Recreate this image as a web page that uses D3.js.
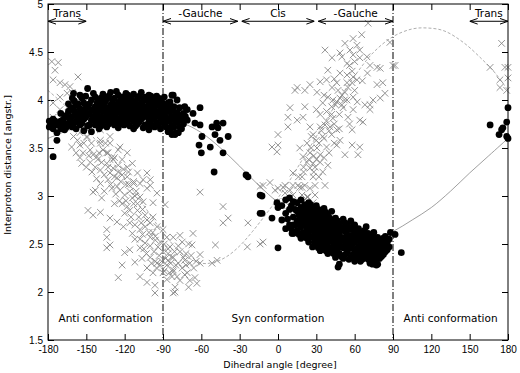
<!DOCTYPE html>
<html>
<head>
<meta charset="utf-8">
<title>Interproton distance vs dihedral angle</title>
<script src="https://d3js.org/d3.v7.min.js"></script>
<style>
  body { margin: 0; background: #fff; }
  svg { display: block; font-family: "DejaVu Sans", sans-serif; }
  .tick line { stroke: #000; }
  .tick text { font-size: 10px; fill: #000; }
</style>
</head>
<body>
<div id="chart"></div>
<script>
// axis ticks
const xTicks = [-180, -150, -120, -90, -60, -30, 0, 30, 60, 90, 120, 150, 180];
const yTicks = [1.5, 2, 2.5, 3, 3.5, 4, 4.5, 5];

// model curves [angle, distance]
const synCurve = [[-180,3.60],[-165,3.68],[-150,3.75],[-135,3.80],[-120,3.82],[-105,3.82],[-90,3.80],[-75,3.76],[-60,3.66],[-45,3.50],[-30,3.31],[-15,3.11],[0,2.93],[15,2.77],[30,2.64],[45,2.56],[60,2.52],[75,2.54],[90,2.63],[105,2.75],[120,2.88],[135,3.05],[150,3.24],[165,3.42],[180,3.60]];
const antiCurve = [[-180,4.10],[-165,3.92],[-150,3.70],[-135,3.45],[-120,3.18],[-105,2.90],[-90,2.62],[-75,2.40],[-60,2.30],[-50,2.31],[-40,2.37],[-30,2.48],[-20,2.63],[-10,2.80],[0,2.98],[10,3.18],[20,3.40],[30,3.62],[45,3.95],[60,4.25],[75,4.50],[90,4.66],[105,4.74],[117,4.75],[130,4.72],[145,4.60],[160,4.42],[170,4.28],[180,4.10]];

// filled circles: anti band (left), scattered transition, syn cluster, right edge
const dotsAnti = [
  [-179,3.78],[-179,3.72],[-176,3.41],[-176,3.70],[-176,3.80],[-173,3.58],[-173,3.74],[-173,3.66],
  [-170,3.70],[-170,3.78],[-170,3.86],[-167,3.69],[-167,3.82],[-167,3.75],[-164,3.76],[-164,3.88],[-164,3.96],
  [-161,3.72],[-161,3.83],[-161,3.92],[-161,4.02],[-160,4.07],[-158,3.70],[-158,3.78],[-158,3.86],[-158,3.95],
  [-155,3.74],[-155,3.84],[-155,3.91],[-155,4.05],[-152,3.68],[-152,3.80],[-152,3.88],[-152,3.97],
  [-149,3.73],[-149,3.86],[-149,3.94],[-149,4.12],[-146,3.67],[-146,3.79],[-146,3.90],[-146,4.00],
  [-143,3.74],[-143,3.84],[-143,3.93],[-143,4.03],[-140,3.70],[-140,3.82],[-140,3.91],[-140,3.99],
  [-137,3.77],[-137,3.88],[-137,3.96],[-137,4.06],[-134,3.72],[-134,3.83],[-134,3.92],[-134,4.01],
  [-131,3.78],[-131,3.87],[-131,3.95],[-131,4.08],[-128,3.74],[-128,3.84],[-128,3.93],[-128,4.02],
  [-125,3.71],[-125,3.80],[-125,3.89],[-125,3.97],[-125,4.05],[-122,3.75],[-122,3.85],[-122,3.94],[-122,4.03],
  [-119,3.79],[-119,3.88],[-119,3.98],[-119,4.07],[-116,3.73],[-116,3.84],[-116,3.92],[-116,4.01],
  [-113,3.70],[-113,3.78],[-113,3.87],[-113,3.96],[-113,4.06],[-110,3.75],[-110,3.84],[-110,3.93],[-110,4.02],
  [-107,3.80],[-107,3.89],[-107,3.97],[-107,4.08],[-104,3.74],[-104,3.85],[-104,3.93],[-104,4.03],
  [-101,3.69],[-101,3.78],[-101,3.88],[-101,3.96],[-101,4.05],[-98,3.73],[-98,3.83],[-98,3.92],[-98,4.00],
  [-95,3.76],[-95,3.86],[-95,3.95],[-95,4.04],[-92,3.70],[-92,3.81],[-92,3.90],[-92,3.99],
  [-89,3.75],[-89,3.84],[-89,3.93],[-89,4.03],[-86,3.67],[-86,3.78],[-86,3.88],[-86,3.97],
  [-83,3.64],[-83,3.73],[-83,3.83],[-83,3.92],[-83,4.05],[-80,3.66],[-80,3.78],[-80,3.87],
  [-77,3.72],[-77,3.82],[-77,3.92],[-74,3.75],[-74,3.86],[-71,3.79],[-71,3.90],
  [-177.5,3.75],[-174.5,3.78],[-171.5,3.74],[-168.5,3.79],[-165.5,3.84],[-165.5,3.72],[-162.5,3.80],[-162.5,3.90],
  [-159.5,3.76],[-159.5,3.89],[-159.5,3.99],[-156.5,3.81],[-156.5,3.96],[-153.5,3.76],[-153.5,3.86],[-153.5,4.02],
  [-150.5,3.82],[-150.5,3.91],[-150.5,4.04],[-147.5,3.74],[-147.5,3.85],[-147.5,3.96],[-144.5,3.81],[-144.5,3.89],
  [-144.5,4.07],[-141.5,3.77],[-141.5,3.87],[-141.5,3.97],[-138.5,3.73],[-138.5,3.83],[-138.5,3.93],[-138.5,4.02],
  [-135.5,3.80],[-135.5,3.89],[-135.5,3.98],[-132.5,3.75],[-132.5,3.85],[-132.5,3.91],[-132.5,4.04],[-129.5,3.81],
  [-129.5,3.90],[-129.5,3.99],[-126.5,3.76],[-126.5,3.86],[-126.5,3.94],[-126.5,4.09],[-123.5,3.79],[-123.5,3.90],
  [-123.5,3.99],[-120.5,3.74],[-120.5,3.83],[-120.5,3.93],[-120.5,4.02],[-117.5,3.78],[-117.5,3.88],[-117.5,3.96],
  [-117.5,4.05],[-114.5,3.82],[-114.5,3.91],[-114.5,4.00],[-111.5,3.73],[-111.5,3.80],[-111.5,3.89],[-111.5,3.98],
  [-108.5,3.77],[-108.5,3.86],[-108.5,3.95],[-108.5,4.04],[-105.5,3.71],[-105.5,3.82],[-105.5,3.90],[-105.5,3.99],
  [-102.5,3.74],[-102.5,3.83],[-102.5,3.92],[-102.5,4.01],[-99.5,3.78],[-99.5,3.87],[-99.5,3.96],[-99.5,4.04],
  [-96.5,3.72],[-96.5,3.81],[-96.5,3.90],[-96.5,3.99],[-93.5,3.74],[-93.5,3.85],[-93.5,3.95],[-93.5,4.02],
  [-90.5,3.78],[-90.5,3.88],[-90.5,3.97],[-87.5,3.72],[-87.5,3.82],[-87.5,3.92],[-84.5,3.69],[-84.5,3.78],
  [-84.5,3.88],[-84.5,3.98],[-81.5,3.72],[-81.5,3.82],[-81.5,3.93],[-78.5,3.77],[-78.5,3.86],[-75.5,3.80],
  [-75.5,3.70],[-72.5,3.83],
  [180,3.92],[166,3.74],[179,3.77],[176,3.71],[175,3.69],[173,3.64],[179,3.62],[180,3.60]
];
const dotsMid = [
  [-82,4.05],[-79,4.00],[-73,3.93],[-61,3.92],[-66.5,3.86],[-65,3.76],[-61,3.74],[-78,3.66],[-80.6,3.64],
  [-51.6,3.72],[-48,3.76],[-43,3.76],[-47,3.71],[-49.3,3.64],[-59.5,3.62],[-45.4,3.58],[-39,3.62],
  [-61.8,3.53],[-53,3.51],[-60,3.45],[-43,3.45],[-50,3.25],[-25,3.22],[-23.5,3.20],[-12.5,3.00],
  [-0.8,2.93],[0,2.88],[-12.5,2.82],[-4.7,2.77],[-14,3.01],[-14,2.82],[0,2.46],[11,2.61]
];
const dotsSyn = [
  [3,2.90],[3,2.75],[6,2.82],[6,2.96],[6,2.66],[9,2.70],[9,2.86],[9,2.98],[12,2.61],[12,2.78],[12,2.94],[12,2.70],
  [15,2.64],[15,2.74],[15,2.84],[15,2.93],[18,2.56],[18,2.68],[18,2.78],[18,2.88],[18,2.96],
  [21,2.60],[21,2.70],[21,2.80],[21,2.91],[24,2.52],[24,2.63],[24,2.73],[24,2.83],[24,2.93],
  [27,2.47],[27,2.57],[27,2.67],[27,2.76],[27,2.86],[30,2.50],[30,2.60],[30,2.70],[30,2.79],[30,2.90],
  [33,2.43],[33,2.54],[33,2.64],[33,2.73],[33,2.83],[36,2.46],[36,2.57],[36,2.67],[36,2.77],[36,2.87],
  [39,2.40],[39,2.51],[39,2.61],[39,2.71],[39,2.80],[42,2.44],[42,2.54],[42,2.64],[42,2.74],[42,2.84],
  [45,2.36],[45,2.48],[45,2.58],[45,2.68],[45,2.77],[48,2.29],[48,2.40],[48,2.51],[48,2.61],[48,2.71],
  [51,2.35],[51,2.46],[51,2.56],[51,2.66],[51,2.76],[54,2.41],[54,2.50],[54,2.60],[54,2.70],
  [57,2.36],[57,2.46],[57,2.55],[57,2.65],[57,2.74],[60,2.32],[60,2.42],[60,2.52],[60,2.61],[60,2.70],
  [63,2.38],[63,2.47],[63,2.56],[63,2.66],[66,2.34],[66,2.44],[66,2.53],[66,2.62],
  [69,2.40],[69,2.49],[69,2.58],[69,2.68],[72,2.30],[72,2.38],[72,2.47],[72,2.56],
  [75,2.35],[75,2.44],[75,2.52],[75,2.62],[78,2.29],[78,2.40],[78,2.48],[78,2.57],
  [81,2.37],[81,2.45],[81,2.54],[84,2.42],[84,2.50],[84,2.58],[87,2.47],[87,2.55],
  [47,2.26],[74,2.29],[77,2.28],[88,2.62],[91.6,2.60],[96.5,2.41],
  [7.5,2.76],[10.5,2.66],[10.5,2.90],[13.5,2.70],[13.5,2.86],[16.5,2.60],[16.5,2.70],[16.5,2.80],
  [19.5,2.62],[19.5,2.74],[19.5,2.84],[22.5,2.56],[22.5,2.67],[22.5,2.77],[22.5,2.87],[25.5,2.58],
  [25.5,2.69],[25.5,2.79],[25.5,2.91],[28.5,2.52],[28.5,2.62],[28.5,2.72],[28.5,2.82],[31.5,2.46],
  [31.5,2.56],[31.5,2.66],[31.5,2.76],[31.5,2.86],[34.5,2.50],[34.5,2.60],[34.5,2.70],[34.5,2.80],
  [37.5,2.43],[37.5,2.53],[37.5,2.63],[37.5,2.73],[37.5,2.83],[40.5,2.46],[40.5,2.57],[40.5,2.67],
  [40.5,2.77],[43.5,2.40],[43.5,2.51],[43.5,2.61],[43.5,2.71],[46.5,2.44],[46.5,2.54],[46.5,2.64],
  [46.5,2.74],[49.5,2.37],[49.5,2.47],[49.5,2.57],[49.5,2.67],[52.5,2.39],[52.5,2.52],[52.5,2.63],
  [52.5,2.72],[55.5,2.34],[55.5,2.45],[55.5,2.56],[55.5,2.66],[58.5,2.39],[58.5,2.50],[58.5,2.59],
  [58.5,2.68],[61.5,2.36],[61.5,2.45],[61.5,2.55],[61.5,2.64],[64.5,2.32],[64.5,2.42],[64.5,2.51],
  [64.5,2.60],[67.5,2.37],[67.5,2.47],[67.5,2.56],[67.5,2.64],[70.5,2.34],[70.5,2.44],[70.5,2.52],
  [70.5,2.61],[73.5,2.42],[73.5,2.50],[73.5,2.59],[76.5,2.32],[76.5,2.40],[76.5,2.48],[76.5,2.56],
  [79.5,2.35],[79.5,2.43],[79.5,2.51],[82.5,2.39],[82.5,2.47],[82.5,2.56],[85.5,2.44],[85.5,2.52]
];

// crosses: left diagonal band, middle, right diagonal band, right edge
const crossesLeft = [
  [-177,4.40],[-172,4.39],[-174.5,4.31],[-176,4.21],[-170.6,4.18],[-166.7,4.16],[-162.8,4.14],[-156.5,4.24],
  [-176,3.97],[-170.6,4.03],[-165,4.07],[-161,4.08],[-157,4.00],[-153.4,3.93],[-164.3,3.93],[-170.6,3.90],
  [-176,3.82],[-149.5,3.76],[-144.7,3.79],[-155,3.66],[-139,3.69],[-131.5,3.62],[-149.5,3.62],[-139,3.55],
  [-134,3.45],[-123.7,3.51],[-129,3.38],[-141.7,3.41],[-125,3.32],[-118,3.30],[-118,3.20],[-113,3.13],
  [-105.6,3.17],[-100,3.11],[-131.5,3.24],[-139,3.13],[-161.5,3.51],[-155,3.53],[-152.6,3.45],[-147,3.48],
  [-153.6,3.34],[-147,3.35],[-144.7,3.43],[-141,3.38],[-137,3.48],[-133,3.45],[-139,3.27],[-145.6,3.25],
  [-143,3.06],[-144.7,3.04],[-138,2.98],[-148.7,2.85],[-144.7,2.80],[-139,2.83],[-129,3.29],[-133,3.17],
  [-126,3.19],[-130,3.08],[-123.7,3.06],[-118,3.45],[-125,3.48],[-131.5,3.55],[-139,3.58],[-122,3.38],
  [-114,3.34],[-117,3.25],[-110,3.24],[-113,3.15],[-108,3.13],[-120,3.01],[-114,2.98],[-118,2.89],
  [-110,2.85],[-108,2.99],[-105.6,2.94],[-102.5,3.08],[-100,3.17],[-102.5,3.24],[-131.5,2.77],[-126,2.73],
  [-121,2.68],[-116,2.72],[-114,2.61],[-108,2.65],[-102.5,2.75],[-97.8,2.78],[-94.7,2.68],[-100,2.57],
  [-104,2.51],[-96,2.54],[-94,2.47],[-108,2.46],[-116,2.44],[-120,2.41],[-122,2.28],[-112,2.31],
  [-106.5,2.35],[-100,2.36],[-94.7,2.30],[-102.5,2.25],[-97.8,2.20],[-108,2.16],[-102.5,2.10],[-96.3,2.07],
  [-125,2.15],[-131.5,2.49],[-134,2.46],[-134,2.57],[-134,2.65],[-96.3,1.99],[-82,1.99],[-90,2.65],
  [-87,2.57],[-84.5,2.47],[-83,2.36],[-82,2.23],[-87,2.13],[-88.4,2.91],[-94.7,3.03],[-97.8,2.93],
  [-134,3.34],[-149.5,3.61],[-157,3.58],[-128,3.40],[-122,3.22],[-119,3.12],[-116,3.05],[-112,3.00],
  [-110,2.92],[-106,2.86],[-104,2.80],[-100,2.72],[-98,2.62],[-96,2.58],[-92,2.52],[-90,2.42],
  [-88,2.35],[-92,2.28],[-89,2.22],[-86,2.45],[-126,3.10],[-124,2.95],[-112,2.55],[-106,2.60],
  [-150,3.70],[-160,3.85],[-165,3.75],[-136,3.05],[-128,2.92],
  [-160,3.62],[-158,3.45],[-155,3.40],[-152,3.55],[-150,3.30],[-148,3.42],[-146,3.55],[-143,3.30],
  [-142,3.18],[-140,3.45],[-138,3.35],[-136,3.22],[-135,3.55],[-133,3.30],[-131,3.12],[-130,3.40],
  [-128,3.20],[-127,3.02],[-125,3.25],[-123,3.15],[-122,2.92],[-121,3.28],[-120,2.82],[-119,2.95],
  [-117,3.12],[-116,2.85],[-115,2.78],[-113,2.92],[-112,2.70],[-111,3.05],[-109,2.78],[-108,2.55],
  [-107,2.72],[-105,2.45],[-104,2.68],[-103,2.40],[-101,2.62],[-100,2.48],[-99,2.30],[-97,2.42],
  [-96,2.32],[-95,2.25],[-93,2.38],[-91,2.32],[-90,2.20],[-89,2.50],[-87,2.28],[-86,2.40],
  [-85,2.20],[-84,2.30],[-81,2.42],[-80,2.28],[-79,2.16],[-78,2.48],[-74,2.36],[-72,2.28],
  [-68,2.38],[-64,2.32],[-66,2.25],[-73,2.18],[-69,2.12]
];
const crossesMid = [
  [-86,2.33],[-82,2.36],[-76.7,2.42],[-73,2.33],[-69,2.30],[-75,2.25],[-82,2.21],[-71,2.20],
  [-65,2.15],[-63.5,2.09],[-70,2.05],[-76.7,2.12],[-83,2.16],[-80.6,2.05],[-80.6,2.00],[-76.7,2.59],
  [-75,2.52],[-82,2.57],[-67.3,2.49],[-66.5,2.61],[-61,2.39],[-61,2.30],[-61,3.04],[-49,2.49],
  [-51.6,2.30],[-47.7,2.33],[-43,2.89],[-39,2.77],[-43,2.72],[-23.5,2.72],[-24,2.47],[-14,2.50],
  [-11.7,2.52],[-78,2.30],[-72,2.40],[-70,2.50]
];
const crossesRight = [
  [65.5,4.68],[58.8,4.64],[70.5,4.80],[87.6,4.60],[91.6,4.36],[52.4,4.59],[61.8,4.57],[56.3,4.52],
  [64,4.52],[36.8,4.52],[48.5,4.49],[42.3,4.44],[50,4.45],[58.8,4.47],[64,4.44],[69.6,4.45],
  [54,4.38],[56,4.36],[72,4.36],[77.5,4.34],[80,4.33],[39,4.31],[48.5,4.28],[54,4.26],
  [58.8,4.24],[61.8,4.21],[33,4.19],[38,4.21],[46,4.18],[58,4.18],[77.5,4.16],[82,4.18],
  [83.7,4.07],[80,4.02],[74.4,4.00],[72,3.95],[15,4.13],[21,4.10],[25,4.16],[30.5,4.08],
  [42.3,4.13],[47,4.10],[52.4,4.08],[54.8,4.13],[60,4.10],[39,4.03],[43,4.00],[48.5,4.02],
  [54,4.00],[58.8,4.03],[35,3.97],[42,3.93],[51,3.92],[58.8,3.90],[68,3.95],[72,3.90],
  [9.4,3.92],[21,3.93],[7.8,3.82],[15,3.79],[19.6,3.82],[33,3.85],[43,3.81],[54.8,3.82],
  [64,3.79],[66.5,3.77],[7.8,3.72],[25,3.72],[33,3.72],[36.8,3.74],[40.7,3.72],[46,3.69],
  [58,3.69],[0,3.64],[27.5,3.64],[35,3.62],[42,3.64],[48.5,3.58],[-4.7,3.51],[0,3.53],
  [-0.8,3.46],[17,3.50],[22.7,3.55],[30.5,3.50],[38,3.51],[46,3.53],[58,3.53],[64,3.51],
  [19.6,3.41],[25,3.45],[33,3.43],[52.4,3.43],[62.6,3.43],[22.7,3.35],[27.5,3.34],[33,3.35],
  [39,3.32],[25,3.29],[29,3.30],[35,3.25],[11.7,3.24],[18.8,3.20],[27.5,3.20],[36.8,3.11],
  [4,3.09],[11.7,3.11],[18.8,3.09],[25,3.08],[5.5,3.03],[11.7,3.01],[18.8,3.01],[23.5,2.99],
  [29,3.01],[-0.8,2.94],[19.6,2.94],[27.5,2.93],[-2.3,3.06],[-11.7,3.11],[13.3,4.10],[90,4.36],
  [-6.3,3.14],[5.5,3.11],[17,3.09],[21,3.11],[9.4,3.06],[15.6,3.11],[29,3.11],[1.6,2.90],
  [5.5,2.94],[-14,3.10],[0,3.08],[22.7,2.99],[30,3.58],[28,3.42],[32,3.55],[36,3.60],
  [40,3.68],[44,3.75],[48,3.85],[50,3.95],[52,4.00],[38,3.88],[45,3.95],[26,3.62],
  [20,3.30],[24,3.38],[40,3.45],[56,3.75],[62,3.98],[66,4.20],[70,4.28],[30,3.90],
  [36,4.05],[28,3.25],[16,3.20],[60,4.40],[44,4.22],[20,3.25],[26,3.50],[30,3.38],
  [34,3.68],[38,3.78],[42,3.85],[46,3.98],[50,4.05],[54,4.18],[58,4.30],[44,3.55],
  [48,3.70],[36,3.40],[32,3.20],
  [175,4.59],[166,4.34],[177.6,4.34],[180,4.34],[173.7,4.21],[180,4.23],[173.7,4.13],[179,4.10]
];

// annotation arrows along the top
const arrowFrom = [-180, -90, -28.5, 31.5, 150];
const arrowTo = [-150, -31.5, 28.5, 90, 180];
const arrowLabels = ["Trans", "-Gauche", "Cis", "-Gauche", "Trans"];

// region labels near the bottom
const regionCenters = [-135, 0, 135];
const regionLabels = ["Anti conformation", "Syn conformation", "Anti conformation"];
const boundaries = [-90, 90];

const dots = dotsAnti.concat(dotsMid, dotsSyn);
const crosses = crossesLeft.concat(crossesMid, crossesRight);

const width = 520, height = 373;
const x = d3.scaleLinear().domain([-180, 180]).range([48, 508]);
const y = d3.scaleLinear().domain([1.5, 5]).range([340, 4]);

const svg = d3.select("#chart").append("svg")
  .attr("width", width)
  .attr("height", height);

svg.append("defs").append("marker")
  .attr("id", "head")
  .attr("viewBox", "0 0 8 8")
  .attr("refX", 8).attr("refY", 4)
  .attr("markerWidth", 8).attr("markerHeight", 8)
  .attr("markerUnits", "userSpaceOnUse")
  .attr("orient", "auto-start-reverse")
  .append("path")
  .attr("d", "M0,1.2L8,4L0,6.8")
  .attr("fill", "none")
  .attr("stroke", "#000")
  .attr("stroke-width", 1);

// axes (ticks point inward, mirrored on top/right)
const fmt = d => String(d);
svg.append("g").attr("transform", "translate(0,340)")
  .call(d3.axisBottom(x).tickValues(xTicks).tickFormat(fmt).tickSizeInner(-6).tickSizeOuter(0).tickPadding(6))
  .call(g => g.select(".domain").remove());
svg.append("g").attr("transform", "translate(0,4)")
  .call(d3.axisTop(x).tickValues(xTicks).tickFormat("").tickSizeInner(-6).tickSizeOuter(0))
  .call(g => g.select(".domain").remove());
svg.append("g").attr("transform", "translate(48,0)")
  .call(d3.axisLeft(y).tickValues(yTicks).tickFormat(fmt).tickSizeInner(-6).tickSizeOuter(0).tickPadding(5))
  .call(g => g.select(".domain").remove());
svg.append("g").attr("transform", "translate(508,0)")
  .call(d3.axisRight(y).tickValues(yTicks).tickFormat("").tickSizeInner(-6).tickSizeOuter(0))
  .call(g => g.select(".domain").remove());

const plot = svg.append("g");

// boundaries at +-90
plot.selectAll(".bound").data(boundaries).enter().append("line")
  .attr("x1", d => x(d)).attr("x2", d => x(d))
  .attr("y1", y(5)).attr("y2", y(1.5))
  .attr("stroke", "#000").attr("stroke-width", 1)
  .attr("stroke-dasharray", "7,2,1,2");

const line = d3.line().x(d => x(d[0])).y(d => y(d[1])).curve(d3.curveCatmullRom);

plot.append("path").datum(synCurve)
  .attr("d", line).attr("fill", "none")
  .attr("stroke", "#888").attr("stroke-width", 0.8);
plot.append("path").datum(antiCurve)
  .attr("d", line).attr("fill", "none")
  .attr("stroke", "#999").attr("stroke-width", 0.8)
  .attr("stroke-dasharray", "3,2");

plot.selectAll(".cross").data(crosses).enter().append("path")
  .attr("transform", d => `translate(${x(d[0])},${y(d[1])})`)
  .attr("d", "M-3.3,-3.3L3.3,3.3M-3.3,3.3L3.3,-3.3")
  .attr("stroke", "#888").attr("stroke-width", 0.9).attr("fill", "none");

plot.selectAll(".dot").data(dots).enter().append("circle")
  .attr("cx", d => x(d[0])).attr("cy", d => y(d[1]))
  .attr("r", 3.4).attr("fill", "#000");

// top arrows with labels
const ay = y(4.82);
arrowFrom.forEach((a, i) => {
  svg.append("line")
    .attr("x1", x(a)).attr("x2", x(arrowTo[i]))
    .attr("y1", ay).attr("y2", ay)
    .attr("stroke", "#000").attr("stroke-width", 1)
    .attr("marker-start", "url(#head)").attr("marker-end", "url(#head)");
  svg.append("text")
    .attr("x", x((a + arrowTo[i]) / 2)).attr("y", ay - 4)
    .attr("text-anchor", "middle").attr("font-size", 10.5)
    .text(arrowLabels[i]);
});

svg.selectAll(".region").data(regionCenters).enter().append("text")
  .attr("x", d => x(d)).attr("y", y(1.69))
  .attr("text-anchor", "middle").attr("font-size", 10.5)
  .text((d, i) => regionLabels[i]);

// frame
svg.append("rect")
  .attr("x", 48).attr("y", 4).attr("width", 460).attr("height", 336)
  .attr("fill", "none").attr("stroke", "#000").attr("stroke-width", 1);

svg.append("text")
  .attr("x", 280).attr("y", 368)
  .attr("text-anchor", "middle").attr("font-size", 9.5)
  .text("Dihedral angle [degree]");
svg.append("text")
  .attr("transform", "translate(11,165) rotate(-90)")
  .attr("text-anchor", "middle").attr("font-size", 9.5)
  .text("Interproton distance [angstr.]");
</script>
</body>
</html>
